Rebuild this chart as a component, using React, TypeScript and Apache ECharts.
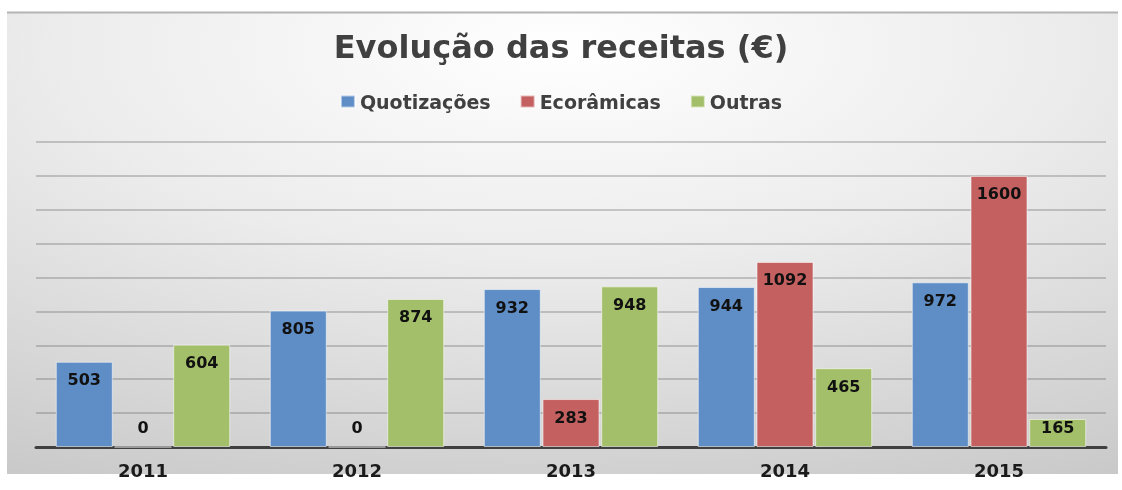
import React, { useEffect, useRef } from "react";
import * as echarts from "echarts";

const categories = ["2011", "2012", "2013", "2014", "2015"];
const quotizacoes = [503, 805, 932, 944, 972];
const ecoramicas = [0, 0, 283, 1092, 1600];
const outras = [604, 874, 948, 465, 165];
const seriesNames = ["Quotizações", "Ecorâmicas", "Outras"];
const seriesColors = ["#5f8ec6", "#c4605f", "#a3bf69"];
const yMax = 1800;
const yStep = 200;

const FONT = "DejaVu Sans";

function labelFor(v: number) {
  if (v === 0) return { position: "top", distance: 11 };
  if (v < 250) return { position: "insideTop", distance: 0 };
  return { position: "insideTop", distance: 10 };
}

function makeSeries(name: string, values: number[], color: string) {
  return {
    name,
    type: "bar",
    barWidth: 57,
    barGap: "3%",
    itemStyle: {
      color,
      borderColor: "rgba(255,255,255,0.55)",
      borderWidth: 1,
    },
    label: {
      show: true,
      color: "#111111",
      fontFamily: FONT,
      fontWeight: "bold",
      fontSize: 16,
    },
    data: values.map((v) => ({ value: v, label: labelFor(v) })),
  };
}

export default function App() {
  const ref = useRef<HTMLDivElement>(null);
  useEffect(() => {
    if (!ref.current) return;
    const chart = echarts.init(ref.current, null, { renderer: "svg" });
    chart.setOption({
      animation: false,
      color: seriesColors,
      graphic: {
        elements: [
          {
            type: "rect",
            z: -100,
            silent: true,
            shape: { x: 7, y: 12, width: 1111, height: 462 },
            style: {
              fill: new echarts.graphic.RadialGradient(0.5, 0.08, 1.3, [
                { offset: 0, color: "#ffffff" },
                { offset: 0.35, color: "#ececec" },
                { offset: 1, color: "#bababa" },
              ]),
            },
          },
          {
            type: "line",
            z: -99,
            silent: true,
            shape: { x1: 7, y1: 12.5, x2: 1118, y2: 12.5 },
            style: { stroke: "#b4b4b4", lineWidth: 2 },
          },
        ],
      },
      title: {
        text: "Evolução das receitas (€)",
        left: "center",
        top: 26,
        textStyle: {
          fontFamily: FONT,
          fontWeight: "bold",
          fontSize: 32,
          color: "#404040",
        },
      },
      legend: {
        data: seriesNames,
        top: 87,
        left: "center",
        icon: "rect",
        itemWidth: 14,
        itemHeight: 12,
        itemGap: 29,
        textStyle: {
          fontFamily: FONT,
          fontWeight: "bold",
          fontSize: 19,
          color: "#404040",
        },
      },
      grid: { left: 36, right: 16, top: 142, bottom: 43 },
      xAxis: {
        type: "category",
        data: categories,
        axisTick: { show: false },
        axisLine: { lineStyle: { color: "#404040", width: 3 } },
        axisLabel: {
          margin: 14,
          fontFamily: FONT,
          fontWeight: "bold",
          fontSize: 18,
          color: "#1a1a1a",
        },
      },
      yAxis: {
        type: "value",
        min: 0,
        max: yMax,
        interval: yStep,
        axisLabel: { show: false },
        axisLine: { show: false },
        axisTick: { show: false },
        splitLine: { lineStyle: { color: "rgba(100,100,100,0.42)", width: 1.5 } },
      },
      series: [
        makeSeries(seriesNames[0], quotizacoes, seriesColors[0]),
        makeSeries(seriesNames[1], ecoramicas, seriesColors[1]),
        makeSeries(seriesNames[2], outras, seriesColors[2]),
      ],
    });
    return () => chart.dispose();
  }, []);
  return (
    <div
      ref={ref}
      style={{ position: "fixed", left: 0, top: 0, width: 1122, height: 490 }}
    />
  );
}
